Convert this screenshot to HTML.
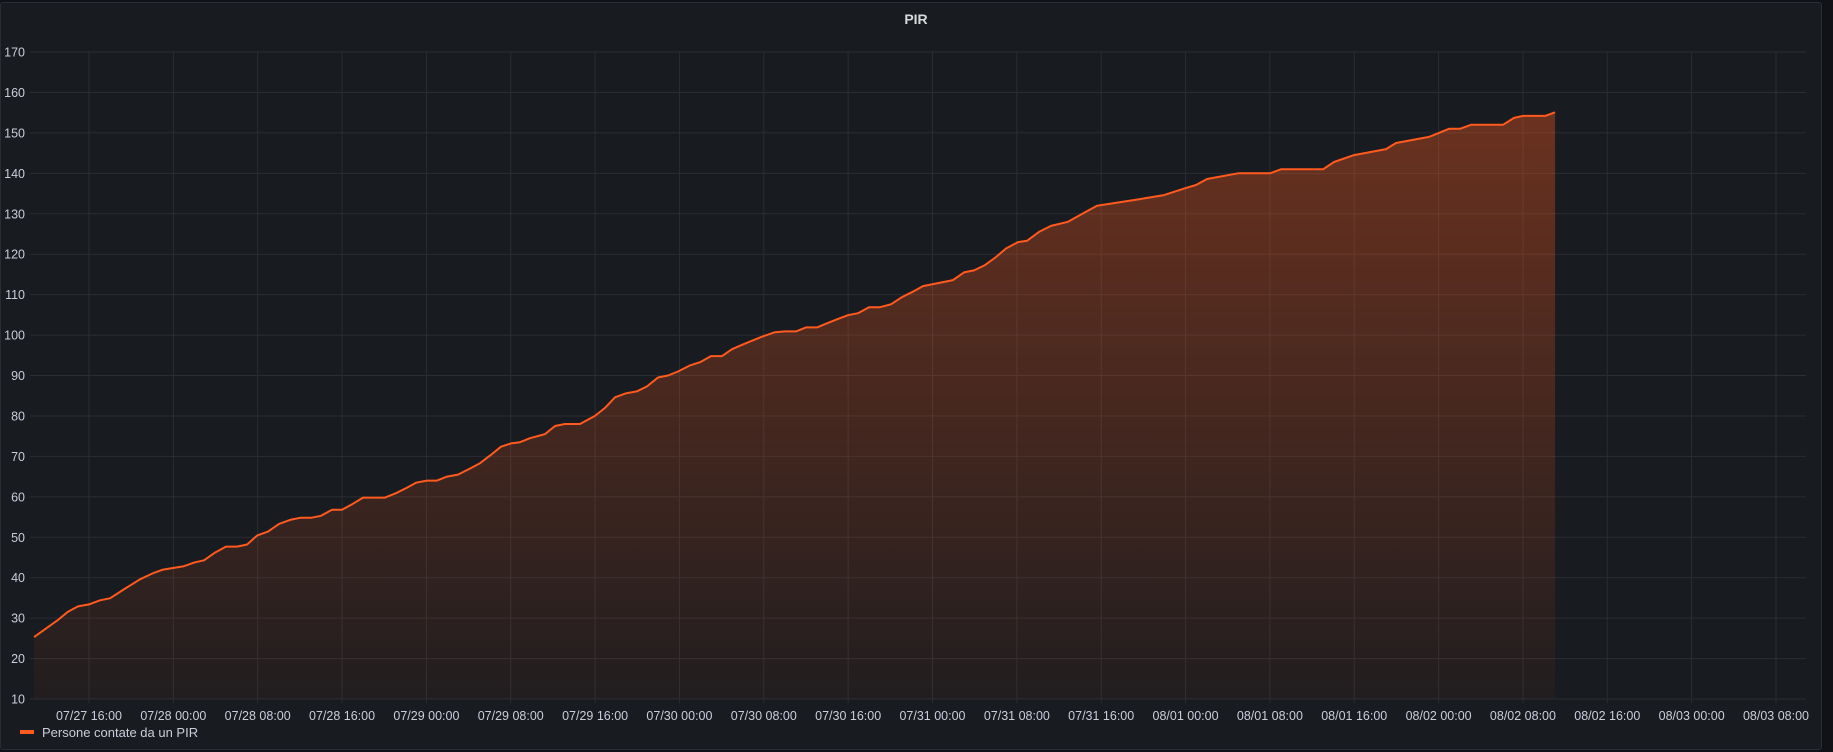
<!DOCTYPE html>
<html><head><meta charset="utf-8"><style>
html,body{margin:0;padding:0;background:#111217;}
body{width:1833px;height:752px;overflow:hidden;font-family:"Liberation Sans",sans-serif;}
#panel{position:absolute;left:0;top:2px;width:1822px;height:748px;background:#181b1f;border:1px solid #2a2d33;border-radius:3px;box-sizing:border-box;}
</style></head><body>
<div id="panel"></div>
<svg id="chart" width="1833" height="752" style="position:absolute;left:0;top:0">
<defs><linearGradient id="fillg" x1="0" y1="0" x2="0" y2="1">
<stop offset="0" stop-color="#ff5a1f" stop-opacity="0.36"/>
<stop offset="1" stop-color="#ff5a1f" stop-opacity="0.04"/>
</linearGradient></defs>
<text x="916" y="24" fill="#d8d9da" font-size="14" font-weight="bold" text-anchor="middle">PIR</text>
<g id="grid"></g><g id="series"></g><g id="labels"></g>
<rect x="20" y="730" width="14" height="4" fill="#ff5a1f"/>
<text x="42" y="737" fill="#ccccdc" font-size="13">Persone contate da un PIR</text>
</svg>
<script>
// hours relative to 07/27 16:00
const hours=[-5.22,-3.03,-1.99,-1.04,0,1.04,1.99,3.60,4.84,5.98,7.02,8.92,10.05,10.91,11.95,12.99,14.04,14.99,15.93,16.98,18.02,19.06,20.01,21.06,22.00,23.05,24.00,25.04,25.99,28.07,29.02,29.97,31.01,32.06,33.01,33.95,35.00,36.14,37.08,38.03,39.08,40.02,40.88,41.83,43.25,44.20,45.14,46.57,47.99,48.94,49.89,50.93,51.97,52.92,53.97,54.91,55.86,57.00,57.95,58.99,60.04,60.98,62.03,62.98,63.92,65.06,66.01,67.05,68.00,69.05,69.99,70.94,71.98,72.93,73.98,75.02,76.06,77.11,78.05,79.10,80.05,81.00,81.94,82.99,83.94,84.98,86.02,86.97,88.11,88.96,90.10,91.24,92.85,94.56,95.60,99.59,101.96,104.04,104.99,106.03,108.97,112.01,113.05,117.04,118.08,119.98,123.01,123.96,127.09,128.99,130.03,131.07,134.11,135.15,136.01,138.10,139.05];
const values=[25.3,29.4,31.6,32.9,33.4,34.4,34.9,37.6,39.6,41.0,42.0,42.8,43.8,44.3,46.2,47.7,47.7,48.2,50.4,51.4,53.3,54.3,54.8,54.8,55.3,56.8,56.8,58.3,59.8,59.8,60.8,62.0,63.5,64.0,64.0,65.0,65.5,67.0,68.3,70.2,72.4,73.2,73.5,74.5,75.5,77.5,78,78,80,82,84.6,85.6,86.1,87.3,89.5,90.0,91.0,92.5,93.3,94.8,94.8,96.5,97.7,98.7,99.7,100.7,100.9,100.9,101.9,101.9,102.9,103.9,104.9,105.4,106.9,106.9,107.6,109.4,110.6,112.1,112.6,113.1,113.6,115.5,116.0,117.3,119.3,121.4,123.0,123.3,125.5,127,128,130.5,132,133.6,134.6,136.4,137.1,138.6,140.0,140.0,141.0,141.0,142.8,144.5,146.0,147.5,149.0,151.0,151.0,152.0,152.0,153.7,154.2,154.2,155.1];
const yTicks=[10,20,30,40,50,60,70,80,90,100,110,120,130,140,150,160,170];
const xTickLabels=["07/27 16:00","07/28 00:00","07/28 08:00","07/28 16:00","07/29 00:00","07/29 08:00","07/29 16:00","07/30 00:00","07/30 08:00","07/30 16:00","07/31 00:00","07/31 08:00","07/31 16:00","08/01 00:00","08/01 08:00","08/01 16:00","08/02 00:00","08/02 08:00","08/02 16:00","08/03 00:00","08/03 08:00"];
const PL=30,PR=1806,X0=89,PX_PER_H=84.35/8;
const yScale=v=>52+(170-v)*(647/160);
const xScale=h=>X0+h*PX_PER_H;
const NS="http://www.w3.org/2000/svg";
const grid=document.getElementById('grid'),labels=document.getElementById('labels'),series=document.getElementById('series');
function mk(tag,attrs){const e=document.createElementNS(NS,tag);for(const k in attrs)e.setAttribute(k,attrs[k]);return e;}
yTicks.forEach(v=>{
  const y=yScale(v);
  const l=mk('line',{x1:PL,x2:PR,y1:y,y2:y,stroke:'#2a2d32','stroke-width':1});
  
  
  grid.appendChild(l);
  const t=mk('text',{x:25,y:y+4.5,fill:'#ccccdc','font-size':12.5,'text-anchor':'end'});
  
  
  t.textContent=v;labels.appendChild(t);
});
xTickLabels.forEach((s,i)=>{
  const x=xScale(i*8);
  const l=mk('line',{x1:x,x2:x,y1:52,y2:703,stroke:'#2a2d32','stroke-width':1});
  
  
  grid.appendChild(l);
  const t=mk('text',{x:x,y:720,fill:'#ccccdc','font-size':12.5,'text-anchor':'middle'});
  
  
  t.textContent=s;labels.appendChild(t);
});
let d='';
hours.forEach((h,i)=>{d+=(i?'L':'M')+xScale(h).toFixed(1)+','+yScale(values[i]).toFixed(1);});
const base=yScale(10);
const area=mk('path',{d:d+'L'+xScale(hours[hours.length-1]).toFixed(1)+','+base+'L'+xScale(hours[0]).toFixed(1)+','+base+'Z',fill:'url(#fillg)'});


series.appendChild(area);
const line=mk('path',{d:d,fill:'none',stroke:'#ff5a1f','stroke-width':2,'stroke-linejoin':'round'});


series.appendChild(line);
</script>
</body></html>
